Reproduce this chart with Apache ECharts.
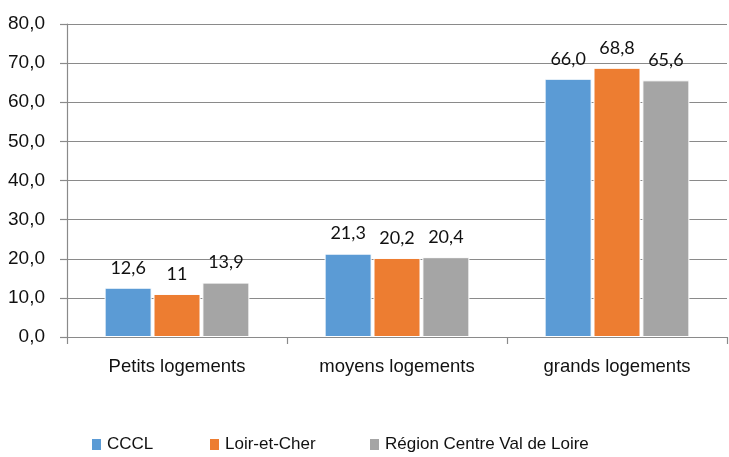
<!DOCTYPE html>
<html><head><meta charset="utf-8">
<script src="https://cdn.jsdelivr.net/npm/echarts@6/dist/echarts.min.js"></script>
<style>html,body{margin:0;padding:0;background:#fff}#c{width:729px;height:457px}</style>
</head><body><div id="c"></div>
<script>
var categories = ["Petits logements", "moyens logements", "grands logements"];
var seriesNames = ["CCCL", "Loir-et-Cher", "Région Centre Val de Loire"];
var cccl = [12.6, 21.3, 66.0];
var loir = [11, 20.2, 68.8];
var region = [13.9, 20.4, 65.6];
var ccclLabels = ["12,6", "21,3", "66,0"];
var loirLabels = ["11", "20,2", "68,8"];
var regionLabels = ["13,9", "20,4", "65,6"];
var yTicks = [0, 10, 20, 30, 40, 50, 60, 70, 80];

var colors = ["#5B9BD5", "#ED7D31", "#A5A5A5"];
var axisFont = "'Liberation Sans', Arial, sans-serif";
var labelFont = "Lato, 'Open Sans', sans-serif";

function mk(name, vals, labs, color) {
  return {
    name: name, type: 'bar', data: vals, barWidth: 47, barGap: '4%',
    itemStyle: { color: color, borderColor: '#fff', borderWidth: 1 },
    label: {
      show: true, position: 'top', distance: 11,
      fontFamily: labelFont, fontSize: 18, color: '#111',
      formatter: function (p) { return labs[p.dataIndex]; }
    }
  };
}

var chart = echarts.init(document.getElementById('c'), null, { renderer: 'canvas' });
function leg(i, left) {
  return {
    data: [seriesNames[i]], left: left, top: 436, itemWidth: 11, itemHeight: 13, itemGap: 4,
    icon: 'rect', selectedMode: false, padding: 0,
    textStyle: { fontFamily: axisFont, fontSize: 17, color: '#111' }
  };
}
chart.setOption({
  animation: false,
  color: colors,
  grid: { left: 67, right: 2, top: 24, bottom: 120, containLabel: false },
  legend: [leg(0, 90), leg(1, 208), leg(2, 368)],
  xAxis: {
    type: 'category', data: categories,
    axisLine: { show: true, lineStyle: { color: '#8a8a8a', width: 1.2 } },
    axisTick: { show: true, length: 7, lineStyle: { color: '#8a8a8a', width: 1.2 } },
    axisLabel: { interval: 0, margin: 20, fontFamily: axisFont, fontSize: 18.5, color: '#111' }
  },
  yAxis: {
    type: 'value', min: yTicks[0], max: yTicks[yTicks.length - 1], interval: 10,
    axisLine: { show: true, lineStyle: { color: '#8a8a8a', width: 1.2 } },
    axisTick: { show: true, length: 7, lineStyle: { color: '#8a8a8a', width: 1.2 } },
    splitLine: { show: true, lineStyle: { color: '#8a8a8a', width: 1.2 } },
    axisLabel: {
      margin: 22, fontFamily: axisFont, fontSize: 19, color: '#111',
      formatter: function (v) { return v.toFixed(1).replace('.', ','); }
    }
  },
  series: [mk(seriesNames[0], cccl, ccclLabels, colors[0]),
           mk(seriesNames[1], loir, loirLabels, colors[1]),
           mk(seriesNames[2], region, regionLabels, colors[2])]
});
</script></body></html>
